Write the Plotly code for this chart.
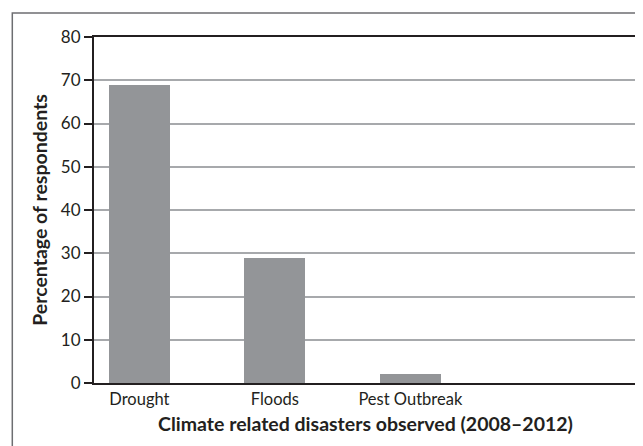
import plotly.graph_objects as go

categories = ["Drought", "Floods", "Pest Outbreak"]
values = [69, 29, 2]
y_ticks = [0, 10, 20, 30, 40, 50, 60, 70, 80]

x_pos = list(range(len(categories)))

fig = go.Figure()
fig.add_trace(go.Bar(
    x=x_pos, y=values, width=0.45,
    marker=dict(color="#939598", line=dict(width=0)),
    showlegend=False,
))

# page body has an 8px margin; compensate
OFF = 8
W, H = 643 - OFF, 446 - OFF
L, R, T, B = 94 - OFF, 4, 37 - OFF, 63
pw, ph = W - L - R, H - T - B

fig.update_layout(
    width=W, height=H,
    margin=dict(l=L, r=R, t=T, b=B),
    paper_bgcolor="white", plot_bgcolor="white",
    font=dict(family="Lato, 'Open Sans', sans-serif", color="#231f20", size=16),
    bargap=0,
)
fig.update_xaxes(
    range=[-0.335, 3.673],
    tickvals=x_pos, ticktext=categories,
    showline=True, mirror=True, linecolor="#231f20", linewidth=2,
    showgrid=False, ticks="",
    tickfont=dict(size=16.5),
    title=dict(text="<b>Climate related disasters observed (2008–2012)</b>",
               font=dict(size=19.5), standoff=10),
)
fig.update_yaxes(
    range=[0, 80], tickvals=y_ticks,
    showline=True, mirror=True, linecolor="#231f20", linewidth=2,
    showgrid=True, gridcolor="#a7a9ac", gridwidth=1.5,
    ticks="outside", ticklen=8, tickcolor="#231f20", tickwidth=1.5,
    tickfont=dict(size=17),
    zeroline=False,
    title=dict(text="<b>Percentage of respondents</b>", font=dict(size=19.5), standoff=8),
)

fig.add_shape(
    type="rect", xref="paper", yref="paper",
    x0=(12 - OFF - L) / pw, x1=1.2,
    y0=-0.5, y1=1 + (T - (13 - OFF)) / ph,
    line=dict(color="#6d6e71", width=1.5),
    layer="below",
)

fig.write_html("out.html")
